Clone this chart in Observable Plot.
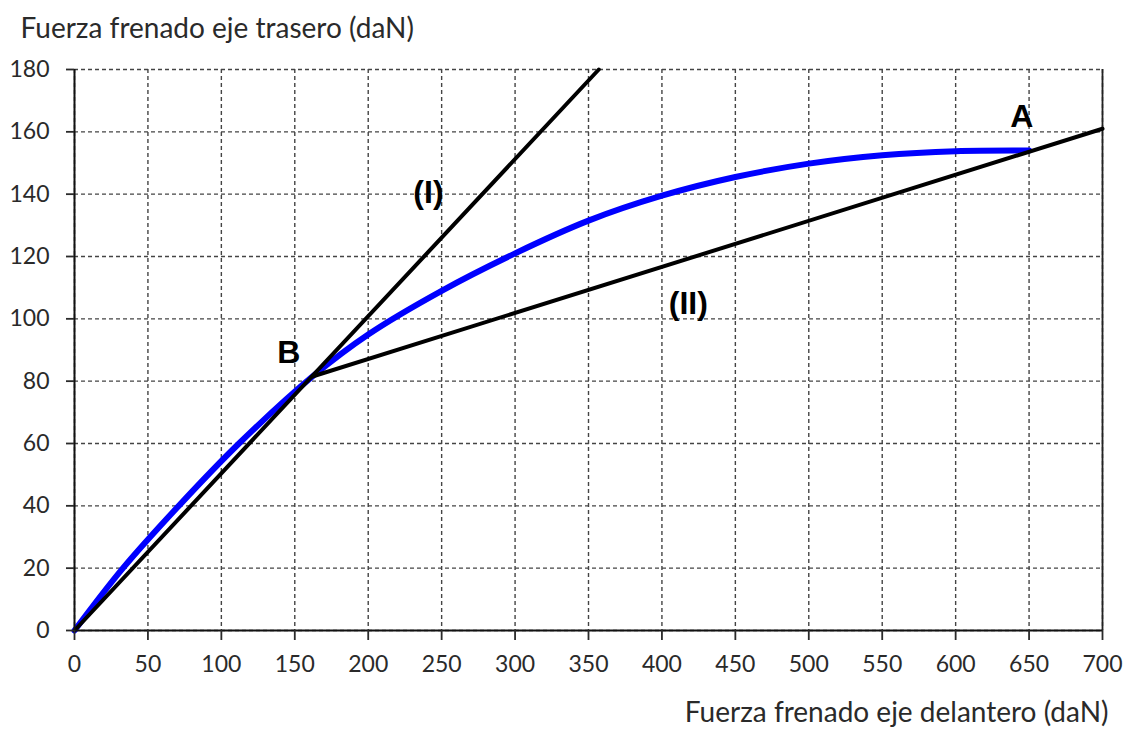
<!DOCTYPE html>
<html>
<head>
<meta charset="utf-8">
<script src="https://cdn.jsdelivr.net/npm/d3@7"></script>
<script src="https://cdn.jsdelivr.net/npm/@observablehq/plot@0.6"></script>
<style>
  html, body { margin: 0; padding: 0; background: #fff; }
</style>
</head>
<body>
<div id="chart"></div>
<script>
// ---- data ----
const xTicks = [0, 50, 100, 150, 200, 250, 300, 350, 400, 450, 500, 550, 600, 650, 700];
const yTicks = [0, 20, 40, 60, 80, 100, 120, 140, 160, 180];

// blue curve (ideal distribution)
const curveX = [0, 33, 71, 112, 162, 200, 250, 300, 350, 400, 450, 500, 550, 600, 650];
const curveY = [0, 20, 40, 60, 81.5, 95, 109, 121, 131.5, 139.5, 145.5, 149.8, 152.5, 153.8, 154];

// line (I)
const lineIX = [0, 357];
const lineIY = [0, 180];

// line (II)
const lineIIX = [162, 700];
const lineIIY = [81.5, 161];

// annotations
const labelText = ["(I)", "(II)", "B", "A"];
const labelX = [241, 418, 146, 645];
const labelY = [140.5, 105, 89, 165];

const xTitle = "Fuerza frenado eje delantero (daN)";
const yTitle = "Fuerza frenado eje trasero (daN)";

// ---- build tables ----
const curve = curveX.map((x, i) => ({x, y: curveY[i]}));
const lineI = lineIX.map((x, i) => ({x, y: lineIY[i]}));
const lineII = lineIIX.map((x, i) => ({x, y: lineIIY[i]}));
const labels = labelText.map((t, i) => ({t, x: labelX[i], y: labelY[i]}));

const font = "Lato, 'Open Sans', sans-serif";

const chart = Plot.plot({
  width: 1125,
  height: 733,
  marginLeft: 74,
  marginRight: 23,
  marginTop: 69,
  marginBottom: 103,
  x: {domain: [0, 700]},
  y: {domain: [0, 180]},
  style: {fontFamily: font, fontSize: "23px", color: "#2a2a2a", background: "white"},
  marks: [
    Plot.ruleX(xTicks, {stroke: "#444", strokeWidth: 1.4, strokeDasharray: "4,3"}),
    Plot.ruleY(yTicks, {stroke: "#444", strokeWidth: 1.4, strokeDasharray: "4,3"}),
    Plot.ruleX([700], {stroke: "#222", strokeWidth: 1.8}),
    Plot.line(curve, {x: "x", y: "y", stroke: "#0000ff", strokeWidth: 6, curve: "catmull-rom"}),
    Plot.line(lineI, {x: "x", y: "y", stroke: "#000", strokeWidth: 4}),
    Plot.line(lineII, {x: "x", y: "y", stroke: "#000", strokeWidth: 4}),
    Plot.ruleX([0], {stroke: "#111", strokeWidth: 2}),
    Plot.ruleY([0], {stroke: "#111", strokeWidth: 2}),
    Plot.axisX({ticks: xTicks, tickSize: 10, tickPadding: 15, label: null, tickFormat: d => d, fontSize: 23, strokeWidth: 1.8}),
    Plot.axisY({ticks: yTicks, tickSize: 8, tickPadding: 17, label: null, tickFormat: d => d, fontSize: 23, strokeWidth: 1.8}),
    Plot.text(labels, {x: "x", y: "y", text: "t", fontFamily: "'Liberation Sans', Arial, sans-serif", fontWeight: "bold", fontSize: 32, fill: "#000"}),
    Plot.text([yTitle], {frameAnchor: "top-left", dx: -54, dy: -40, textAnchor: "start", lineAnchor: "middle", fontSize: 28}),
    Plot.text([xTitle], {frameAnchor: "bottom-right", dx: 6, dy: 83, textAnchor: "end", lineAnchor: "middle", fontSize: 28})
  ]
});
document.getElementById("chart").appendChild(chart);
</script>
</body>
</html>
